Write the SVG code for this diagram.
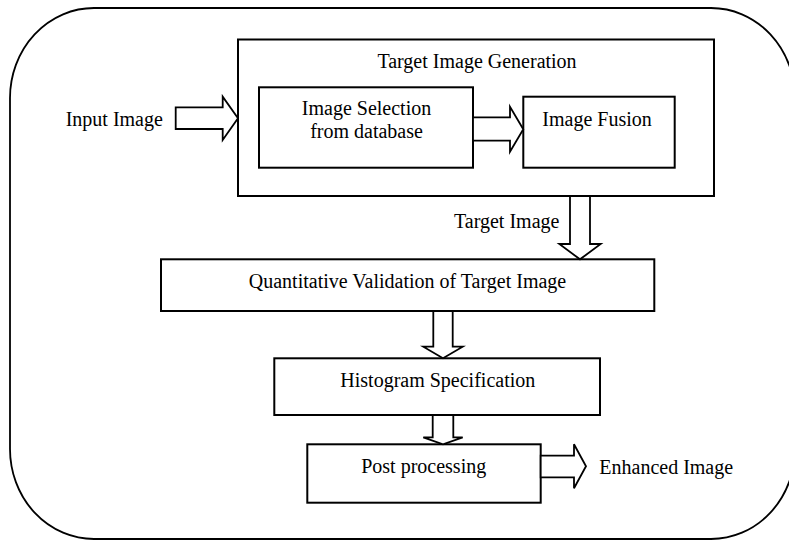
<svg xmlns="http://www.w3.org/2000/svg" width="789" height="541" viewBox="0 0 789 541">
<style>
.box{fill:#fff;stroke:#000;stroke-width:2}
.arr{fill:#fff;stroke:#000;stroke-width:1.8;stroke-linejoin:miter}
text{font-family:"Liberation Serif","Times New Roman",serif;font-size:20px;fill:#000}
.c{text-anchor:middle}
</style>
<rect x="10" y="8" width="785" height="531" rx="84" ry="90" fill="#fff" stroke="#000" stroke-width="1.8"/>
<g id="target-gen">
<rect class="box" x="238" y="39.5" width="476" height="156.5"/>
<text class="c" x="477" y="68">Target Image Generation</text>
</g>
<g id="image-selection">
<rect class="box" x="259" y="87.3" width="214" height="80.4"/>
<text class="c" x="366.5" y="115">Image Selection</text>
<text class="c" x="366.5" y="138">from database</text>
</g>
<g id="image-fusion">
<rect class="box" x="523.3" y="96.7" width="151.4" height="71"/>
<text class="c" x="597" y="126">Image Fusion</text>
</g>
<g id="quant-validation">
<rect class="box" x="161" y="259.3" width="493.3" height="51.7"/>
<text class="c" x="407.5" y="288.3">Quantitative Validation of Target Image</text>
</g>
<g id="histogram">
<rect class="box" x="274.3" y="358.3" width="325.7" height="56.7"/>
<text class="c" x="437.8" y="387.3">Histogram Specification</text>
</g>
<g id="post-processing">
<rect class="box" x="307.3" y="444.3" width="233.4" height="58.4"/>
<text class="c" x="423.7" y="473.3">Post processing</text>
</g>
<g id="input-label"><text x="65.7" y="126">Input Image</text></g>
<g id="target-label"><text x="454" y="228.3">Target Image</text></g>
<g id="enhanced-label"><text x="599.3" y="474">Enhanced Image</text></g>
<g id="connectors">
<polygon class="arr" points="175.7,107.3 222.7,107.3 222.7,96.7 238,118.3 222.7,140 222.7,129 175.7,129"/>
<polygon class="arr" points="473,117.3 510,117.3 510,106.7 523.3,129.2 510,151.7 510,140.7 473,140.7"/>
<polygon class="arr" points="570,196 590,196 590,244 600.7,244 580,259.3 559.3,244 570,244"/>
<polygon class="arr" points="433.3,311 452.7,311 452.7,346.7 462.7,346.7 443,358.3 423.3,346.7 433.3,346.7"/>
<polygon class="arr" points="432.7,415 453.3,415 453.3,437.3 462.7,437.3 443,444.3 423.3,437.3 432.7,437.3"/>
<polygon class="arr" points="540.7,455.7 574,455.7 574,444.3 586,466.3 574,488.3 574,477.3 540.7,477.3"/>
</g>
</svg>
